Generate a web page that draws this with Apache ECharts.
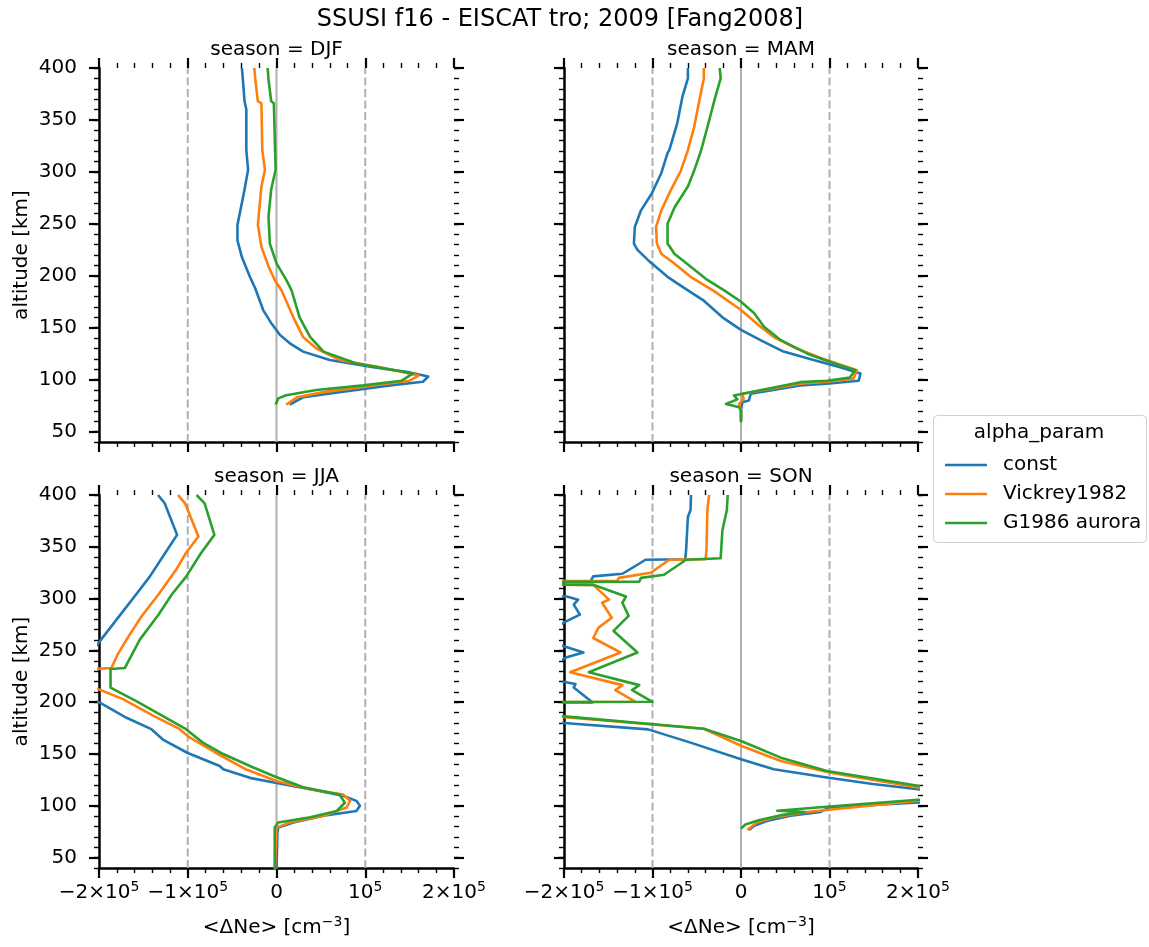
<!DOCTYPE html>
<html>
<head>
<meta charset="utf-8">
<script src="https://cdn.jsdelivr.net/npm/echarts@6/dist/echarts.min.js"></script>
<style>
  html, body { margin: 0; padding: 0; background: #ffffff; }
  #chart { width: 1149px; height: 947px; }
</style>
</head>
<body>
<div id="chart"></div>
<script>
// ---- series / panel names ----
const seriesNames = ['const', 'Vickrey1982', 'G1986 aurora'];
const seasons = ['DJF', 'MAM', 'JJA', 'SON'];

// ---- tick values and labels ----
const xTickValues = [-200000, -100000, 0, 100000, 200000];
const xTickLabels = ['−2×10{s|5}', '−1×10{s|5}', '0', '10{s|5}', '2×10{s|5}'];
const yTickValues = [50, 100, 150, 200, 250, 300, 350, 400];
const refLineValues = [-100000, 0, 100000];

// ---- profiles: [<ΔNe> in cm^-3, altitude in km] ----
const djfConst = [[-39000,400],[-38000,390],[-36000,368],[-34000,360],[-34000,321],[-32000,302],[-36000,283],[-39000,270],[-44000,249],[-44000,234],[-39000,218],[-30000,199],[-24000,188],[-15000,167],[-5600,154],[4000,143],[15000,135],[30000,127],[60000,119],[109000,112],[150000,107],[171000,103],[165000,98],[128000,94.5],[71000,88],[30000,83],[19000,78],[15000,76]];
const djfVickrey = [[-25000,400],[-24000,390],[-21000,368],[-17000,366],[-16000,321],[-13000,302],[-17000,286],[-21000,249],[-17000,228],[-9000,209],[-2000,196],[5600,186],[19000,160],[30000,141],[45000,130],[71000,119],[117000,112],[160000,104],[150000,99],[109000,94.5],[53000,88],[23000,83],[11000,76]];
const djfG1986 = [[-10000,400],[-9000,389],[-6000,368],[-3000,366],[-1000,302],[-6000,283],[-9000,257],[-7500,231],[0,212],[11000,196],[17000,186],[26000,160],[38000,141],[53000,127],[90000,115.5],[154000,106],[141000,99],[98000,94.5],[45000,90],[11000,85],[2000,82],[-1000,76]];

const mamConst = [[-60000,400],[-60000,390],[-66000,373],[-72000,347],[-81000,321],[-83000,318],[-90000,299],[-101000,279],[-113000,263],[-120000,247],[-121000,231],[-117000,225],[-105000,215],[-98000,210],[-83000,199],[-60000,186],[-42000,176],[-21000,160],[0,148],[22000,138],[48000,127],[82000,119],[112000,112],[135000,106],[133000,99],[97000,96],[67000,94.4],[11000,86.4],[9000,80],[1500,78.3],[0,70],[0,60]];
const mamVickrey = [[-42000,400],[-42000,390],[-47000,369],[-53000,343],[-60000,321],[-68000,301],[-79000,283],[-90000,263],[-96000,247],[-95000,231],[-90000,221],[-77000,213],[-57000,199],[-30000,185],[0,167],[22000,151],[37000,141],[60000,131],[93000,120],[131000,109],[127000,101],[97000,98],[67000,96],[1500,86.4],[3000,81.6],[-2000,76.7],[0,70],[0,60]];
const mamG1986 = [[-24000,400],[-23000,390],[-30000,369],[-38000,343],[-45000,321],[-53000,301],[-60000,286],[-75000,266],[-83000,250],[-83000,231],[-75000,221],[-66000,215],[-38000,196],[-19000,186],[0,175],[15000,164],[26000,151],[45000,138],[75000,125],[101000,117],[129000,109],[123000,102],[97000,99],[67000,97.6],[-8000,84.8],[-4000,81],[-17000,76.7],[-2000,73.5],[0,70],[0,59]];

const jjaConst = [[-133500,400],[-126000,392],[-112000,361.5],[-128000,340.6],[-143000,321],[-160000,302],[-180000,280],[-199000,259],[-222000,233],[-238000,232],[-238000,214],[-199000,199.5],[-169000,185],[-141000,174],[-128000,164],[-100000,151],[-64000,138.5],[-60000,135.3],[-30000,127],[0,122],[38000,116],[75000,109.7],[90000,104.8],[94000,100],[90000,95],[53000,90.4],[19000,84],[2000,79],[1000,74.4],[0,35]];
const jjaVickrey = [[-111000,400],[-103000,392],[-88000,360],[-102000,344],[-113000,328],[-133000,304],[-152000,283],[-169000,260.4],[-179000,246],[-186000,233],[-205000,232],[-205000,214],[-173000,203],[-139000,187],[-109000,174],[-98000,166],[-68000,151],[-34000,135],[0,124],[38000,116],[75000,111],[83000,105],[79000,98.4],[53000,90.4],[15000,84],[0,79],[-2000,35]];
const jjaG1986 = [[-90000,400],[-81000,392],[-70000,361.5],[-85000,344],[-102000,321],[-118000,304],[-133000,284.5],[-154000,260.4],[-171000,233],[-187000,232],[-187000,214],[-158000,201],[-135000,190],[-102000,174],[-83000,161],[-60000,150],[-30000,138.5],[-4000,129],[30000,118],[71000,111],[77000,103],[68000,95],[38000,89],[2000,84],[-2000,79],[-2000,35]];

const sonConst = [[-56500,400],[-57000,385.6],[-60000,379],[-62000,347],[-63000,338],[-108000,337.5],[-117000,332.7],[-134000,324],[-167000,321.5],[-170000,316.6],[-1200000,314.7],[-197000,302],[-184000,299],[-189000,294.2],[-182000,284.6],[-197000,278.2],[-215000,270],[-215000,258],[-178000,248],[-197000,243.3],[-215000,235],[-215000,222],[-187000,217.5],[-189000,214.3],[-168000,199.9],[-1200000,198.5],[-350000,190],[-200000,180],[-105000,173.8],[-57000,161],[0,145],[37000,135.3],[97000,127.3],[149000,121],[200000,116],[330000,110],[200000,103.2],[100000,98.4],[90000,94.2],[56000,90.4],[30000,85.6],[15000,80.8],[9000,76.6]];
const sonVickrey = [[-36000,400],[-38000,385.6],[-39000,347],[-40000,338],[-81000,337.5],[-102000,325],[-138000,320],[-140000,317],[-1200000,314.7],[-167000,313.3],[-149000,299],[-157000,296],[-146000,281.6],[-161000,272],[-167000,262],[-136000,248],[-193000,229],[-134000,216.5],[-142000,211.7],[-119000,200.4],[-1200000,198.5],[-260000,190],[-42000,174.4],[0,158],[45000,143.3],[101000,132],[200000,117.7],[340000,110],[200000,105],[75000,94],[37000,88.8],[18000,84],[7000,76.6]];
const sonG1986 = [[-15000,400],[-16000,385.6],[-21000,366],[-23000,339],[-62000,337.5],[-87000,323],[-113000,320],[-115000,316.3],[-1200000,314.7],[-167000,313.3],[-130000,302],[-134000,296],[-127000,283.3],[-144000,268.8],[-117000,248],[-172000,229],[-115000,216.5],[-123000,211.7],[-100000,200.4],[-1200000,198.5],[-260000,191],[-42000,174.4],[0,162.6],[45000,146.5],[97000,133.7],[200000,119.3],[350000,111],[200000,105.8],[100000,99.3],[41000,95.2],[72000,94],[45000,91],[20000,86],[5000,82],[0,78]];

const profiles = [
  [djfConst, djfVickrey, djfG1986],
  [mamConst, mamVickrey, mamG1986],
  [jjaConst, jjaVickrey, jjaG1986],
  [sonConst, sonVickrey, sonG1986]
];

// ---- styling ----
const FONT = 'DejaVu Sans';
const colors = ['#1f77b4', '#ff7f0e', '#2ca02c'];
const panels = [
  { left: 99,  top: 68,  width: 355, height: 374 },
  { left: 564, top: 68,  width: 354, height: 374 },
  { left: 99,  top: 495, width: 355, height: 373 },
  { left: 564, top: 495, width: 354, height: 373 }
];
const supRich = { s: { fontSize: 14, lineHeight: 14, verticalAlign: 'top', fontFamily: FONT, color: '#000' } };

const xAxes = [], yAxes = [], series = [], graphics = [];

panels.forEach((p, g) => {
  const isBottom = g >= 2, isLeft = g % 2 === 0;
  const xBase = {
    gridIndex: g, type: 'value', min: -200000, max: 200000, interval: 100000,
    splitLine: { show: false },
    axisTick: { show: true, inside: false, length: 10, lineStyle: { color: '#000', width: 2.2 } },
    minorTick: { show: true, splitNumber: 5, length: 5, lineStyle: { color: '#000', width: 1.4 } },
    minorSplitLine: { show: false }
  };
  xAxes.push(Object.assign({}, xBase, {
    position: 'bottom',
    axisLine: { show: true, onZero: false, lineStyle: { color: '#000', width: 2.5 } },
    axisLabel: {
      show: isBottom, margin: 12, color: '#000', fontFamily: FONT, fontSize: 20, lineHeight: 26,
      rich: supRich,
      formatter: v => { const i = xTickValues.indexOf(v); return i >= 0 ? xTickLabels[i] : ''; }
    }
  }));
  xAxes.push(Object.assign({}, xBase, {
    position: 'top',
    axisLine: { show: false, onZero: false },
    axisLabel: { show: false }
  }));

  const yMajor = {
    gridIndex: g, type: 'value', min: 40, max: 400,
    splitLine: { show: false },
    axisTick: { show: true, inside: false, length: 10, customValues: yTickValues, lineStyle: { color: '#000', width: 2.2 } }
  };
  const yMinor = {
    gridIndex: g, type: 'value', min: 40, max: 400, interval: 10,
    splitLine: { show: false },
    axisLine: { show: false, onZero: false },
    axisLabel: { show: false },
    axisTick: { show: true, inside: false, length: 5, lineStyle: { color: '#000', width: 1.4 } }
  };
  yAxes.push(Object.assign({}, yMajor, {
    position: 'left',
    axisLine: { show: true, onZero: false, lineStyle: { color: '#000', width: 2.5 } },
    axisLabel: { show: isLeft, customValues: yTickValues, margin: 22, color: '#000', fontFamily: FONT, fontSize: 20 }
  }));
  yAxes.push(Object.assign({}, yMinor, { position: 'left' }));
  yAxes.push(Object.assign({}, yMajor, {
    position: 'right',
    axisLine: { show: false, onZero: false },
    axisLabel: { show: false }
  }));
  yAxes.push(Object.assign({}, yMinor, { position: 'right' }));

  // reference lines at -1e5 (dashed), 0 (solid), 1e5 (dashed)
  refLineValues.forEach(v => {
    series.push({
      type: 'line', name: 'ref', xAxisIndex: g * 2, yAxisIndex: g * 4,
      data: [[v, 40], [v, 400]], symbol: 'none', silent: true, z: 1,
      lineStyle: { color: '#b0b0b0', width: 2, type: v === 0 ? 'solid' : [8, 3.5] }
    });
  });

  profiles[g].forEach((d, k) => {
    series.push({
      type: 'line', name: seriesNames[k], xAxisIndex: g * 2, yAxisIndex: g * 4,
      data: d, symbol: 'none', showSymbol: false, clip: true, z: 3,
      lineStyle: { color: colors[k], width: 2.6, join: 'round' }, itemStyle: { color: colors[k] }
    });
  });

  const cx = p.left + p.width / 2;
  graphics.push({
    type: 'text', x: cx, y: p.top - 18,
    style: { text: 'season = ' + seasons[g], fontFamily: FONT, fontSize: 20, fill: '#000', align: 'center', verticalAlign: 'middle' }
  });
  if (isBottom) {
    graphics.push({
      type: 'text', x: cx, y: 928,
      style: { text: '<ΔNe> [cm{s|−3}]', rich: supRich, fontFamily: FONT, fontSize: 20, lineHeight: 26, fill: '#000', align: 'center', verticalAlign: 'middle' }
    });
  }
  if (isLeft) {
    graphics.push({
      type: 'text', x: 22, y: p.top + p.height / 2, rotation: Math.PI / 2,
      style: { text: 'altitude [km]', fontFamily: FONT, fontSize: 20, fill: '#000', align: 'center', verticalAlign: 'middle' }
    });
  }
});

// figure title
graphics.push({
  type: 'text', x: 560, y: 20,
  style: { text: 'SSUSI f16 - EISCAT tro; 2009 [Fang2008]', fontFamily: FONT, fontSize: 24, fill: '#000', align: 'center', verticalAlign: 'middle' }
});
// legend frame and title
graphics.push({
  type: 'rect', z: 0,
  shape: { x: 933.5, y: 415.5, width: 213, height: 127, r: 4 },
  style: { fill: '#ffffff', stroke: '#d0d0d0', lineWidth: 1 }
});
graphics.push({
  type: 'text', x: 1039, y: 433, z: 1,
  style: { text: 'alpha_param', fontFamily: FONT, fontSize: 20, fill: '#000', align: 'center', verticalAlign: 'middle' }
});

const chart = echarts.init(document.getElementById('chart'), null, { renderer: 'canvas' });
chart.setOption({
  animation: false,
  backgroundColor: '#ffffff',
  grid: panels.map(p => Object.assign({ containLabel: false }, p)),
  xAxis: xAxes,
  yAxis: yAxes,
  series: series,
  legend: {
    data: seriesNames, orient: 'vertical', left: 940, top: 449,
    icon: 'rect', itemWidth: 42, itemHeight: 2.5, itemGap: 7,
    selectedMode: false, z: 5,
    textStyle: { fontFamily: FONT, fontSize: 20, lineHeight: 22, color: '#000', padding: [0, 0, 0, 11] }
  },
  graphic: graphics
});
</script>
</body>
</html>
